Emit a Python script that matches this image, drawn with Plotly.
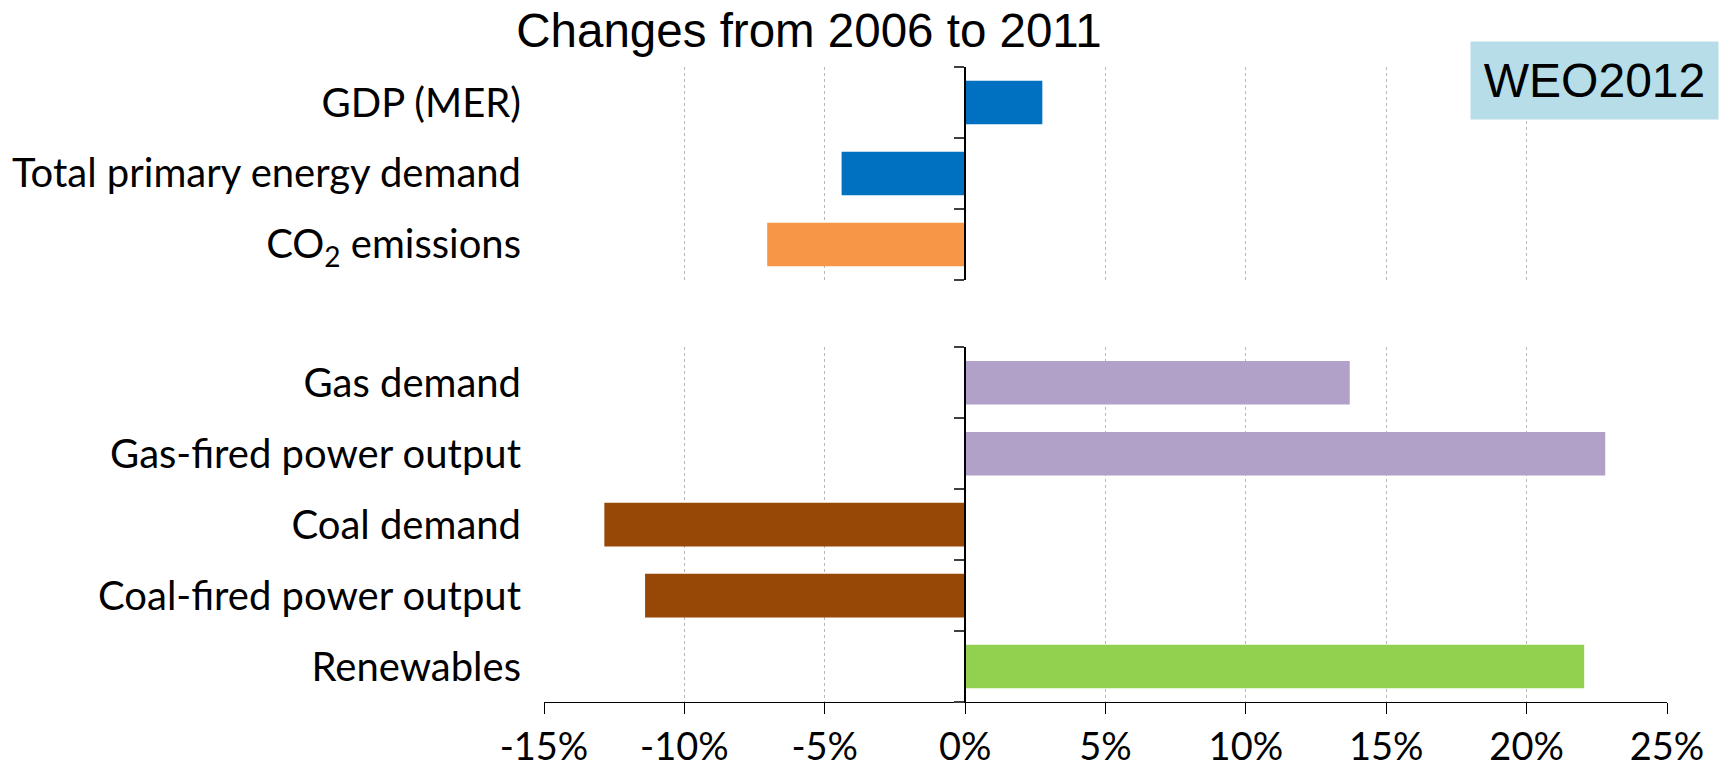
import plotly.graph_objects as go

# ---- data ----
title_text = "Changes from 2006 to 2011"
badge_text = "WEO2012"

top_categories = ["GDP (MER)", "Total primary energy demand", "CO<sub>2</sub> emissions"]
top_values = [2.75, -4.4, -7.05]
top_colors = ["#0070C0", "#0070C0", "#F79646"]

bottom_categories = ["Gas demand", "Gas-fired power output", "Coal demand",
                     "Coal-fired power output", "Renewables"]
bottom_values = [13.7, 22.8, -12.85, -11.4, 22.05]
bottom_colors = ["#B1A0C7", "#B1A0C7", "#974706", "#974706", "#92D050"]

x_tickvals = [-15, -10, -5, 0, 5, 10, 15, 20, 25]
x_ticktext = ["-15%", "-10%", "-5%", "0%", "5%", "10%", "15%", "20%", "25%"]

# ---- layout geometry ----
W, H = 1719, 766
ML, MR, MT, MB = 544, 52, 67, 64
XMIN, XMAX = -15, 25
zero_pos = (0 - XMIN) / (XMAX - XMIN)
bar_w = 0.615
cat_font = dict(family="Lato, Carlito, sans-serif", size=40, color="black")
tick_font = dict(family="Lato, Carlito, sans-serif", size=38, color="black")
grid = dict(showgrid=True, gridcolor="#B8B8B8", griddash="dot", gridwidth=1)

fig = go.Figure()

fig.add_trace(go.Bar(
    y=bottom_categories, x=bottom_values, orientation="h",
    marker=dict(color=bottom_colors, line=dict(width=0)), width=bar_w,
    xaxis="x", yaxis="y", showlegend=False, hoverinfo="x+y"))
fig.add_trace(go.Bar(
    y=top_categories, x=top_values, orientation="h",
    marker=dict(color=top_colors, line=dict(width=0)), width=bar_w,
    xaxis="x2", yaxis="y2", showlegend=False, hoverinfo="x+y"))
# carriers for the zero-position category axes
fig.add_trace(go.Scatter(x=[None], y=[None], xaxis="x", yaxis="y3",
                         showlegend=False, hoverinfo="skip"))
fig.add_trace(go.Scatter(x=[None], y=[None], xaxis="x2", yaxis="y4",
                         showlegend=False, hoverinfo="skip"))

nb, nt = len(bottom_categories), len(top_categories)

fig.update_layout(
    width=W, height=H,
    margin=dict(l=ML, r=MR, t=MT, b=MB, pad=0, autoexpand=False),
    paper_bgcolor="white", plot_bgcolor="white",
    bargap=0.385,
    title=dict(text=title_text, x=(809 - ML) / (W - ML - MR), xref="paper",
               xanchor="center", y=1 - 30.3 / H, yanchor="middle", yref="container",
               font=dict(family="Liberation Sans, Arial, sans-serif", size=47.5, color="black")),
    xaxis=dict(domain=[0, 1], anchor="y", range=[XMIN, XMAX], zeroline=False,
               automargin=False,
               tickvals=x_tickvals, ticktext=x_ticktext, tickfont=tick_font,
               ticks="outside", ticklen=11, tickwidth=1.3, tickcolor="black",
               ticklabelstandoff=0,
               showline=True, linecolor="black", linewidth=1.3, **grid),
    xaxis2=dict(domain=[0, 1], anchor="y2", range=[XMIN, XMAX], zeroline=False,
                automargin=False,
                tickvals=x_tickvals, showticklabels=False, ticks="",
                showline=False, **grid),
    yaxis=dict(domain=[0, 0.5586], anchor="x", type="category", automargin=False,
               range=[nb - 0.5, -0.5], showgrid=False, zeroline=False,
               showline=False, ticks="", tickfont=cat_font, ticklabelstandoff=22),
    yaxis2=dict(domain=[0.6646, 1], anchor="x2", type="category", automargin=False,
                range=[nt - 0.5, -0.5], showgrid=False, zeroline=False,
                showline=False, ticks="", tickfont=cat_font, ticklabelstandoff=22),
    yaxis3=dict(overlaying="y", anchor="free", position=zero_pos, side="left",
                automargin=False,
                range=[nb - 0.5, -0.5], tickvals=[i - 0.5 for i in range(nb + 1)],
                showticklabels=False, ticks="outside", ticklen=10, tickwidth=1.5,
                tickcolor="#404040", showline=True, linecolor="black", linewidth=1.5,
                showgrid=False, zeroline=False),
    yaxis4=dict(overlaying="y2", anchor="free", position=zero_pos, side="left",
                automargin=False,
                range=[nt - 0.5, -0.5], tickvals=[i - 0.5 for i in range(nt + 1)],
                showticklabels=False, ticks="outside", ticklen=10, tickwidth=1.5,
                tickcolor="#404040", showline=True, linecolor="black", linewidth=1.5,
                showgrid=False, zeroline=False),
    annotations=[dict(text=badge_text, xref="paper", yref="paper",
                      x=(W - ML) / (W - ML - MR), xanchor="right",
                      y=1 + (MT - 41) / (H - MT - MB), yanchor="top",
                      width=247, height=77, borderpad=0, bgcolor="#B7DDE8",
                      showarrow=False, align="center", valign="middle",
                      font=dict(family="Liberation Sans, Arial, sans-serif", size=48,
                                color="black"))],
)

fig.write_html("out.html")
